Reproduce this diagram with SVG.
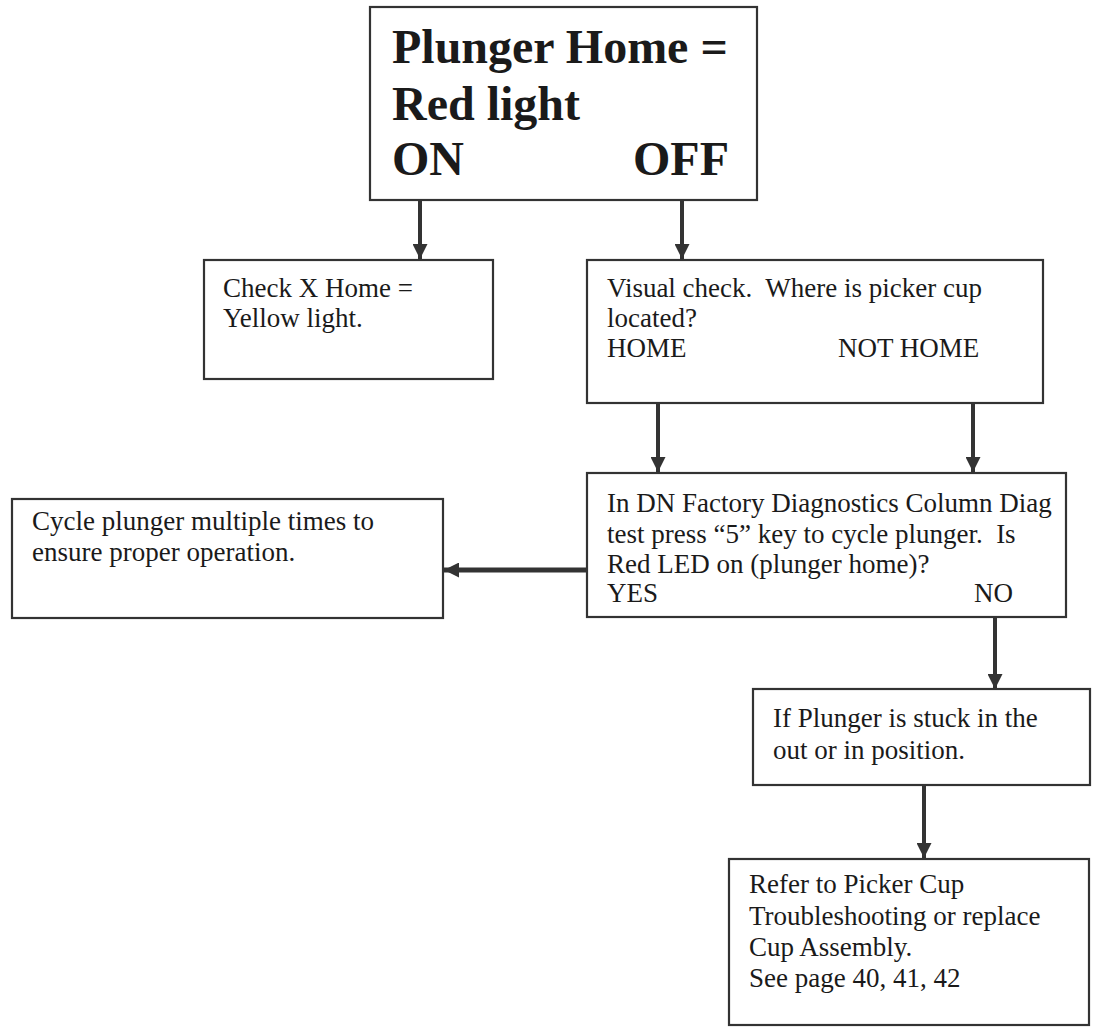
<svg xmlns="http://www.w3.org/2000/svg" width="1095" height="1036" viewBox="0 0 1095 1036">
<style>
  .box { fill: #ffffff; stroke: #333333; stroke-width: 2.2; }
  .t { font-family: "Liberation Serif", "Times New Roman", serif; font-size: 27px; fill: #1a1a1a; }
  .big { font-family: "Liberation Serif", "Times New Roman", serif; font-size: 48px; font-weight: bold; fill: #1a1a1a; }
  .conn { stroke: #333333; stroke-width: 4; fill: none; marker-end: url(#ah); }
</style>
<defs>
  <marker id="ah" markerUnits="userSpaceOnUse" markerWidth="15" markerHeight="15" refX="15" refY="7.5" orient="auto">
    <path d="M0,0 L15,7.5 L0,15 Z" fill="#333333"/>
  </marker>
</defs>
<rect width="1095" height="1036" fill="#ffffff"/>

<g id="connectors">
  <line class="conn" x1="420" y1="200" x2="420" y2="259"/>
  <line class="conn" x1="682" y1="200" x2="682" y2="259"/>
  <line class="conn" x1="658" y1="403" x2="658" y2="472"/>
  <line class="conn" x1="973" y1="403" x2="973" y2="472"/>
  <line class="conn" x1="587" y1="570" x2="444" y2="570" style="stroke-width:5"/>
  <line class="conn" x1="995" y1="617" x2="995" y2="689"/>
  <line class="conn" x1="924" y1="785" x2="924" y2="858"/>
</g>

<g id="node-plunger-home">
  <rect class="box" x="370" y="7" width="387" height="193"/>
  <text class="big" x="392" y="63">Plunger Home =</text>
  <text class="big" x="392" y="120">Red light</text>
  <text class="big" x="392" y="175">ON</text>
  <text class="big" x="633" y="175">OFF</text>
</g>

<g id="node-check-x-home">
  <rect class="box" x="204" y="260" width="289" height="119"/>
  <text class="t" x="223" y="297">Check X Home =</text>
  <text class="t" x="223" y="327">Yellow light.</text>
</g>

<g id="node-visual-check">
  <rect class="box" x="587" y="260" width="456" height="143"/>
  <text class="t" x="607" y="297" xml:space="preserve">Visual check.  Where is picker cup</text>
  <text class="t" x="607" y="327">located?</text>
  <text class="t" x="607" y="357">HOME</text>
  <text class="t" x="838" y="357">NOT HOME</text>
</g>

<g id="node-dn-factory">
  <rect class="box" x="587" y="473" width="479" height="144"/>
  <text class="t" x="607" y="512">In DN Factory Diagnostics Column Diag</text>
  <text class="t" x="607" y="543" xml:space="preserve">test press “5” key to cycle plunger.  Is</text>
  <text class="t" x="607" y="573">Red LED on (plunger home)?</text>
  <text class="t" x="607" y="602">YES</text>
  <text class="t" x="974" y="602">NO</text>
</g>

<g id="node-cycle-plunger">
  <rect class="box" x="12" y="499" width="431" height="119"/>
  <text class="t" x="32" y="530">Cycle plunger multiple times to</text>
  <text class="t" x="32" y="561">ensure proper operation.</text>
</g>

<g id="node-plunger-stuck">
  <rect class="box" x="753" y="689" width="337" height="96"/>
  <text class="t" x="773" y="727">If Plunger is stuck in the</text>
  <text class="t" x="773" y="759">out or in position.</text>
</g>

<g id="node-refer">
  <rect class="box" x="729" y="859" width="360" height="166"/>
  <text class="t" x="749" y="893">Refer to Picker Cup</text>
  <text class="t" x="749" y="925">Troubleshooting or replace</text>
  <text class="t" x="749" y="956">Cup Assembly.</text>
  <text class="t" x="749" y="987">See page 40, 41, 42</text>
</g>
</svg>
